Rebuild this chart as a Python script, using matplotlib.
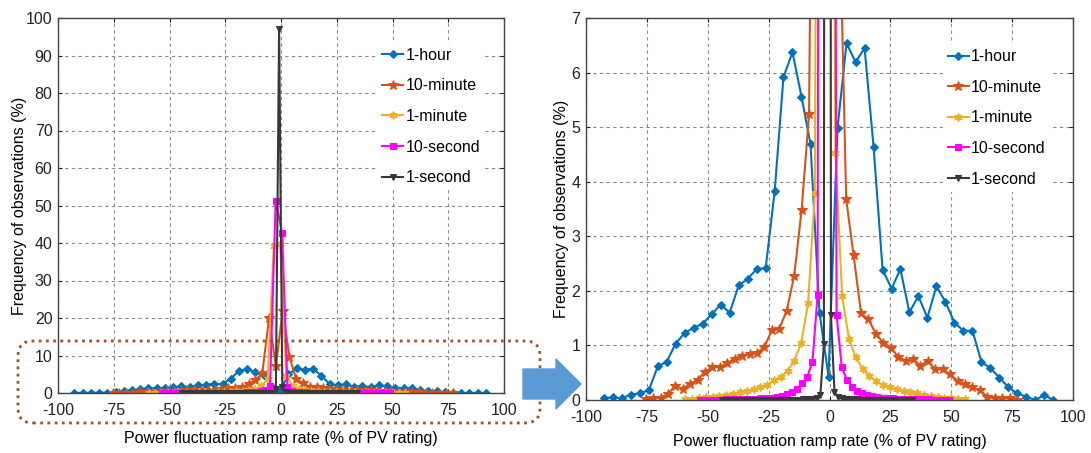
import matplotlib
matplotlib.use("Agg")
import matplotlib.pyplot as plt
from matplotlib.patches import FancyBboxPatch, FancyArrow

plt.rcParams['font.family'] = ['Liberation Sans', 'DejaVu Sans']
plt.rcParams['axes.unicode_minus'] = False

# ---------------- data ----------------
hour_x = [-92.7, -89.0, -85.3, -81.6, -77.9, -74.2, -70.5, -66.9, -63.2, -59.5,
          -55.8, -52.1, -48.4, -44.7, -41.0, -37.3, -33.6, -29.9, -26.2, -22.5,
          -18.9, -15.2, -11.5, -7.8, -4.1, -0.4, 3.3, 7.0, 10.7, 14.4,
          18.1, 21.8, 25.5, 29.1, 32.8, 36.5, 40.2, 43.9, 47.6, 51.3,
          55.0, 58.7, 62.4, 66.1, 69.8, 73.5, 77.2, 80.8, 84.5, 88.2, 91.9]
hour_y = [0.03, 0.05, 0.03, 0.10, 0.12, 0.18, 0.62, 0.70, 1.03, 1.23,
          1.32, 1.40, 1.57, 1.75, 1.60, 2.10, 2.22, 2.40, 2.42, 3.83,
          5.92, 6.37, 5.56, 4.69, 1.60, 0.43, 4.99, 6.54, 6.19, 6.45,
          4.64, 2.39, 2.04, 2.40, 1.61, 1.90, 1.51, 2.08, 1.80, 1.42,
          1.27, 1.27, 0.70, 0.58, 0.41, 0.23, 0.12, 0.06, 0.00, 0.09, 0.00]

min10_x = [-75.5, -72.45, -69.4, -66.35, -63.3, -60.25, -57.2, -54.15, -51.1, -48.05,
           -45.0, -41.95, -38.9, -35.85, -32.8, -29.75, -26.7, -23.65, -20.6, -17.55,
           -14.5, -11.45, -8.4, -5.35, -2.3, 0.75, 3.8, 6.85, 9.9, 12.95,
           16.0, 19.05, 22.1, 25.15, 28.2, 31.25, 34.3, 37.35, 40.4, 43.45,
           46.5, 49.55, 52.6, 55.65, 58.7, 61.75, 64.8, 67.85, 70.9, 73.95, 77.0]
min10_y = [0.01, 0.03, 0.04, 0.11, 0.26, 0.20, 0.30, 0.37, 0.52, 0.60,
           0.61, 0.67, 0.76, 0.81, 0.84, 0.86, 0.98, 1.28, 1.31, 1.64,
           2.28, 3.48, 5.24, 20.0, 7.1, 22.0, 9.6, 3.68, 2.65, 1.59,
           1.48, 1.21, 1.05, 0.96, 0.79, 0.72, 0.75, 0.63, 0.72, 0.56,
           0.56, 0.47, 0.35, 0.30, 0.23, 0.18, 0.06, 0.03, 0.03, 0.03, 0.00]

min1_x = [-59.2, -56.4, -53.6, -50.8, -48.0, -45.2, -42.4, -39.6, -36.8, -34.0,
          -31.2, -28.4, -25.6, -22.8, -20.0, -17.2, -14.4, -11.6, -8.8, -6.0,
          -3.2, -0.4, 2.4, 5.2, 8.0, 10.8, 13.6, 16.4, 19.2, 22.0,
          24.8, 27.6, 30.4, 33.2, 36.0, 38.8, 41.6, 44.4, 47.2, 50.0, 52.8, 55.6]
min1_y = [0.01, 0.02, 0.03, 0.05, 0.06, 0.08, 0.10, 0.11, 0.14, 0.17,
          0.20, 0.23, 0.28, 0.36, 0.43, 0.54, 0.72, 1.05, 1.77, 3.80,
          39.3, 39.8, 4.52, 1.90, 1.12, 0.78, 0.57, 0.44, 0.34, 0.27,
          0.23, 0.20, 0.17, 0.14, 0.12, 0.10, 0.08, 0.06, 0.04, 0.03, 0.02, 0.01]

sec10_x = [-53.2, -51.1, -49.0, -46.9, -44.8, -42.7, -40.6, -38.5, -36.4, -34.3,
           -32.2, -30.1, -28.0, -25.9, -23.8, -21.7, -19.6, -17.5, -15.4, -13.3,
           -11.2, -9.1, -7.0, -4.9, -2.4, 0.5, 2.9, 5.0, 7.1, 9.2,
           11.3, 13.4, 15.5, 17.6, 19.7, 21.8, 23.9, 26.0, 28.1, 30.2,
           32.3, 34.4, 36.5, 38.6, 40.7, 42.8, 44.9, 47.0, 49.1]
sec10_y = [0.0, 0.0, 0.0, 0.0, 0.0, 0.01, 0.01, 0.01, 0.01, 0.01,
           0.02, 0.02, 0.03, 0.03, 0.04, 0.06, 0.08, 0.11, 0.15, 0.21,
           0.31, 0.43, 0.70, 1.92, 51.3, 42.7, 1.56, 0.61, 0.37, 0.24,
           0.17, 0.12, 0.09, 0.07, 0.05, 0.04, 0.03, 0.03, 0.02, 0.02,
           0.01, 0.01, 0.01, 0.01, 0.01, 0.0, 0.0, 0.0, 0.0]

sec1_x = [-44.35, -42.9, -41.45, -40.0, -38.55, -37.1, -35.65, -34.2, -32.75, -31.3,
          -29.85, -28.4, -26.95, -25.5, -24.05, -22.6, -21.15, -19.7, -18.25, -16.8,
          -15.35, -13.9, -12.45, -11.0, -9.55, -8.1, -6.65, -5.2, -3.75, -2.3,
          -0.85, 0.6, 2.05, 3.5, 4.95, 6.4, 7.85, 9.3, 10.75, 12.2,
          13.65, 15.1, 16.55, 18.0, 19.45, 20.9, 22.35, 23.8, 25.25, 26.7,
          28.15, 29.6, 31.05, 32.5, 33.95]
sec1_y = [0.0, 0.0, 0.0, 0.0, 0.0, 0.0, 0.0, 0.0, 0.0, 0.0,
          0.0, 0.0, 0.0, 0.0, 0.0, 0.0, 0.0, 0.0, 0.0, 0.0,
          0.0, 0.0, 0.0, 0.01, 0.01, 0.01, 0.02, 0.04, 0.10, 1.02,
          97.1, 1.55, 0.15, 0.05, 0.03, 0.02, 0.01, 0.01, 0.01, 0.0,
          0.0, 0.0, 0.0, 0.0, 0.0, 0.0, 0.0, 0.0, 0.0, 0.0,
          0.0, 0.0, 0.0, 0.0, 0.0]

series_labels = ['1-hour', '10-minute', '1-minute', '10-second', '1-second']
x_ticks = [-100, -75, -50, -25, 0, 25, 50, 75, 100]
left_y_ticks = [0, 10, 20, 30, 40, 50, 60, 70, 80, 90, 100]
right_y_ticks = [0, 1, 2, 3, 4, 5, 6, 7]
xlabel = 'Power fluctuation ramp rate (% of PV rating)'
ylabel = 'Frequency of observations (%)'

# ---------------- style ----------------
series = [(hour_x, hour_y), (min10_x, min10_y), (min1_x, min1_y),
          (sec10_x, sec10_y), (sec1_x, sec1_y)]
colors = ['#0072BD', '#D95319', '#EDB120', '#FF00FF', '#383838']
markers = ['D', '*', (6, 1, 0), 's', 'v']
msizes = [4, 7, 6, 4, 5]

W, H = 1091, 453
fig = plt.figure(figsize=(W / 100, H / 100), dpi=100)


def px_axes(x0, y0, x1, y1):
    return fig.add_axes([x0 / W, 1 - y1 / H, (x1 - x0) / W, (y1 - y0) / H])


ax1 = px_axes(58, 18, 504, 393)
ax2 = px_axes(586, 18, 1073, 400)

cfg = [(ax1, 100, left_y_ticks, 0.975, 0.955, 9.5, -1.0),
       (ax2, 7, right_y_ticks, 0.970, 0.952, 6.5, 2.0)]
for ax, ylim, yt, lx, ly, xpad, ypad in cfg:
    for (x, y), c, m, ms, lab in zip(series, colors, markers, msizes, series_labels):
        ax.plot(x, y, color=c, marker=m, markersize=ms, lw=1.5, label=lab,
                markeredgewidth=0.8)
    ax.set_xlim(-100, 100)
    ax.set_ylim(0, ylim)
    ax.set_xticks(x_ticks)
    ax.set_yticks(yt)
    ax.grid(True, linestyle=(0, (3, 3)), color='#8a8a8a', lw=0.8)
    ax.set_axisbelow(True)
    for s in ax.spines.values():
        s.set_color('#444444')
        s.set_linewidth(1.0)
    ax.tick_params(direction='in', length=3, labelsize=11.5, colors='#222222',
                   top=True, right=True)
    ax.tick_params(axis='x', pad=7)
    ax.tick_params(axis='y', pad=4)
    ax.set_xlabel(xlabel, fontsize=11.5, labelpad=xpad)
    ax.set_ylabel(ylabel, fontsize=11.5, labelpad=ypad)
    leg = ax.legend(loc='upper right', bbox_to_anchor=(lx, ly), frameon=True,
                    fontsize=11.5, handlelength=1.3, handletextpad=0.15,
                    labelspacing=0.98, borderpad=0.3)
    leg.get_frame().set_edgecolor('none')
    leg.get_frame().set_facecolor('white')
    leg.get_frame().set_alpha(1.0)

# dotted rounded rectangle (in inches)
box = FancyBboxPatch((0.18, (H - 423) / 100), 5.22, 0.82,
                     boxstyle='round,pad=0,rounding_size=0.15',
                     transform=fig.dpi_scale_trans, fill=False,
                     edgecolor='#A0522D', linestyle=(0, (1, 1.6)), lw=2.0,
                     zorder=5)
fig.patches.append(box)

# blue block arrow (in inches)
arr = FancyArrow(5.23, (H - 384) / 100, 0.58, 0, width=0.30, head_width=0.50,
                 head_length=0.25, length_includes_head=True,
                 transform=fig.dpi_scale_trans, color='#5B9BD5', zorder=6)
fig.patches.append(arr)

fig.savefig('out.png', dpi=100)
